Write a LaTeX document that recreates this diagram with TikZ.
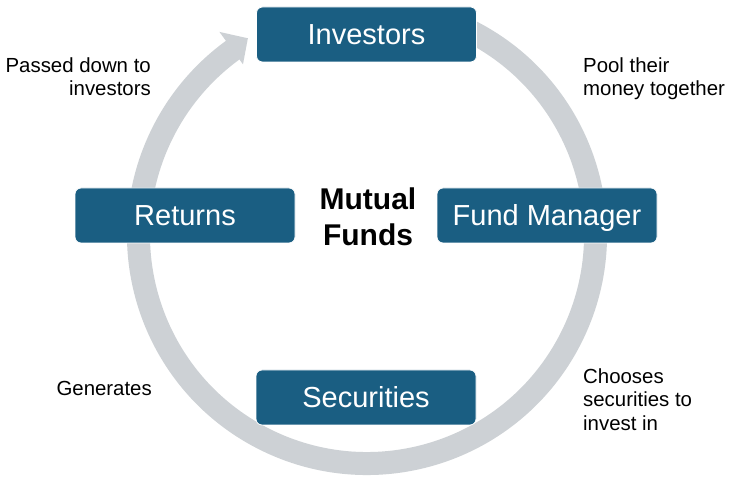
\documentclass[tikz,border=0pt]{standalone}
\usepackage{fontspec}
\setmainfont{Liberation Sans}
\definecolor{boxblue}{HTML}{1A5E82}
\definecolor{ringgray}{HTML}{CDD1D5}
\begin{document}
\begin{tikzpicture}[x=1pt,y=1pt,
  stage/.style={fill=boxblue, draw=white, line width=0.8pt, rounded corners=6pt,
    minimum width=220pt, minimum height=55pt, inner sep=0pt, text=white,
    font=\fontsize{29}{34}\selectfont, text height=21pt, text depth=0pt},
  note/.style={inner sep=0pt, font=\fontsize{20.4}{23.5}\selectfont, text=black},
  ring/.style={draw=ringgray, line width=23pt}]
\useasboundingbox (0,0) rectangle (731,481);
\fill[white] (0,0) rectangle (731,481);
\coordinate (C) at (367,246);
\draw[ring] ([shift={(63:228.5)}]C) arc[start angle=63, end angle=-234.3, radius=228.5pt];
\fill[ringgray] ([shift={(126:251)}]C) -- ([shift={(121.2:230)}]C) -- ([shift={(126:211)}]C) -- cycle;
\node[stage] (inv) at (366.5,446.5) {Investors};
\node[stage] (fm) at (547,265.5) {Fund Manager};
\node[stage] (sec) at (366,83.5) {Securities};
\node[stage] (ret) at (185,265.5) {Returns};
\node[font=\bfseries\fontsize{30}{36}\selectfont, align=center, anchor=north, inner sep=0pt] (mf) at (368,293.2) {Mutual\\Funds};
\node[note, align=right, anchor=north east] (l1) at (151,423.6) {Passed down to\\investors};
\node[note, align=left, anchor=north west] (l2) at (583,423.6) {Pool their\\money together};
\node[note, align=left, anchor=north west] (l3) at (583,112.6) {Chooses\\securities to\\invest in};
\node[note, anchor=base east] (l4) at (152,85) {Generates};
\end{tikzpicture}
\end{document}
